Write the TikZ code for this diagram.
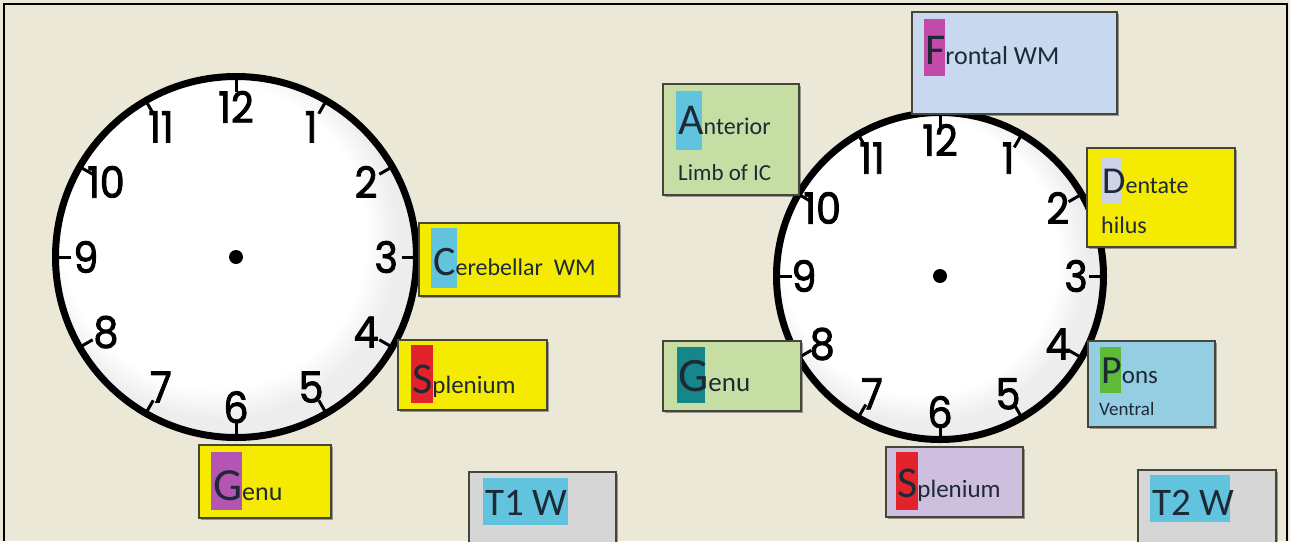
\documentclass[tikz,border=0pt]{standalone}
\usepackage{fontspec}
\setmainfont{Carlito}
\newfontfamily\clockfont[FakeStretch=0.92, FakeBold=2]{Poppins}
\usetikzlibrary{calc,shadows}

\definecolor{paper}{HTML}{ECE8D7}
\definecolor{tagyellow}{HTML}{F4EB00}
\definecolor{tagblue}{HTML}{C8D8EE}
\definecolor{taggreen}{HTML}{C6DDA4}
\definecolor{tagsky}{HTML}{95CDE2}
\definecolor{taglilac}{HTML}{CDBFDD}
\definecolor{taggray}{HTML}{D6D6D6}
\definecolor{hlcyan}{HTML}{62C3DE}
\definecolor{hlred}{HTML}{E2232B}
\definecolor{hlpurple}{HTML}{B455B4}
\definecolor{hlmagenta}{HTML}{C24BA8}
\definecolor{hlteal}{HTML}{15868A}
\definecolor{hlgreen}{HTML}{5DBB3A}
\definecolor{hllilac}{HTML}{CFD3EA}
\definecolor{ink}{HTML}{1D2A36}
\definecolor{edge}{HTML}{45453A}

% white face, slightly greyed towards the lower right rim
\pgfdeclareradialshading{clockface}{\pgfpoint{-5bp}{5bp}}{%
  color(0bp)=(white); color(21bp)=(white); color(25bp)=(black!7); color(50bp)=(black!7)}

\tikzset{
  tagbox/.style={rectangle, draw=edge, line width=1.8pt, inner sep=0pt,
    drop shadow={shadow xshift=1.5pt, shadow yshift=-1.5pt, opacity=0.35, fill=black}},
  lbl/.style={anchor=base west, inner sep=0pt, text=ink},
  rim/.style={draw=black, line width=7pt, shading=clockface},
  hourtick/.style={draw=black, line width=3pt},
  clocknum/.style={font=\clockfont\fontsize{43}{43}\selectfont, inner sep=0pt},
}

% #1 name, #2 x, #3 y, #4 radius of the rim
\newcommand\drawclock[4]{%
  \coordinate (#1) at (#2,#3);
  \path[rim] (#1) circle[radius=#4];
  \foreach \h in {1,...,12}{%
    \draw[hourtick] ($(#1)+(30*\h-90:#4)$) -- ($(#1)+(30*\h-90:#4-15)$);
    \node[clocknum] at ($(#1)+(30*\h-90:0.832*#4)$) {\h};
  }
  \fill (#1) circle[radius=7];
}

% initial letter, then the rest of the word in a smaller size
\newcommand\taglabel[4]{{\fontsize{#1}{#1}\selectfont #2}{\fontsize{#3}{#3}\selectfont #4}}

\begin{document}
\begin{tikzpicture}[x=1pt, y=-1pt]
  \useasboundingbox (0,0) rectangle (1290,541);
  \fill[paper] (0,0) rectangle (1290,541);
  \draw[line width=1.6pt] (4,541) -- (4,4) -- (1287,4) -- (1287,541);

  % the two clock faces
  \drawclock{clockL}{236}{257}{180.5}
  \drawclock{clockR}{940}{276}{163.5}

  % ---- left clock tags ----
  \node[tagbox, fill=tagyellow, minimum width=200, minimum height=73] (cereb) at (519,259.5) {};
  \fill[hlcyan] (431,228) rectangle (457,288);
  \node[lbl] (cerebtxt) at (433,275) {\taglabel{42}{C}{24}{erebellar\ \ WM}};

  \node[tagbox, fill=tagyellow, minimum width=149, minimum height=70] (splenL) at (472.5,375) {};
  \fill[hlred] (411,345) rectangle (433,403);
  \node[lbl] (splenLtxt) at (412,393) {\taglabel{44}{S}{25}{plenium}};

  \node[tagbox, fill=tagyellow, minimum width=132, minimum height=73] (genuL) at (265,481.5) {};
  \fill[hlpurple] (211,452) rectangle (242,510);
  \node[lbl] (genuLtxt) at (213,500) {\taglabel{46}{G}{26}{enu}};

  \node[tagbox, fill=taggray, minimum width=147, minimum height=80] (tone) at (542.5,512) {};
  \fill[hlcyan] (483,478) rectangle (568,525);
  \node[lbl, font=\fontsize{39}{39}\selectfont] (tonetxt) at (485,515) {T1 W};

  % ---- right clock tags ----
  \node[tagbox, fill=tagblue, minimum width=205, minimum height=102] (frontal) at (1014.5,63) {};
  \fill[hlmagenta] (924,19) rectangle (945,76);
  \node[lbl] (frontaltxt) at (925,64) {\taglabel{44}{F}{26}{rontal WM}};

  \node[tagbox, fill=taggreen, minimum width=136, minimum height=111] (anterior) at (731,139.5) {};
  \fill[hlcyan] (676,91) rectangle (702,150);
  \node[lbl] (anteriortxt) at (678,134) {\taglabel{44}{A}{24}{nterior}};
  \node[lbl, font=\fontsize{23}{23}\selectfont] (limbtxt) at (678,180) {Limb of IC};

  \node[tagbox, fill=tagyellow, minimum width=148, minimum height=99] (dentate) at (1161,197.5) {};
  \fill[hllilac] (1102,158) rectangle (1122,203);
  \node[lbl] (dentatetxt) at (1102,193) {\taglabel{38}{D}{24}{entate}};
  \node[lbl, font=\fontsize{24}{24}\selectfont] (hilustxt) at (1101,233) {hilus};

  \node[tagbox, fill=taggreen, minimum width=138, minimum height=70] (genuR) at (732,376) {};
  \fill[hlteal] (677,347) rectangle (705,403);
  \node[lbl] (genuRtxt) at (678,391) {\taglabel{48}{G}{27}{enu}};

  \node[tagbox, fill=tagsky, minimum width=127, minimum height=86] (pons) at (1151.5,384) {};
  \fill[hlgreen] (1100,347) rectangle (1121,393);
  \node[lbl] (ponstxt) at (1101,383) {\taglabel{40}{P}{25}{ons}};
  \node[lbl, font=\fontsize{19}{19}\selectfont] (ventraltxt) at (1099,415) {Ventral};

  \node[tagbox, fill=taglilac, minimum width=137, minimum height=70] (splenR) at (954.5,482) {};
  \fill[hlred] (896,452) rectangle (918,510);
  \node[lbl] (splenRtxt) at (897,497) {\taglabel{44}{S}{25}{plenium}};

  \node[tagbox, fill=taggray, minimum width=138, minimum height=80] (ttwo) at (1207,510) {};
  \fill[hlcyan] (1150,475) rectangle (1230,522);
  \node[lbl, font=\fontsize{39}{39}\selectfont] (ttwotxt) at (1152,515) {T2 W};
\end{tikzpicture}
\end{document}
